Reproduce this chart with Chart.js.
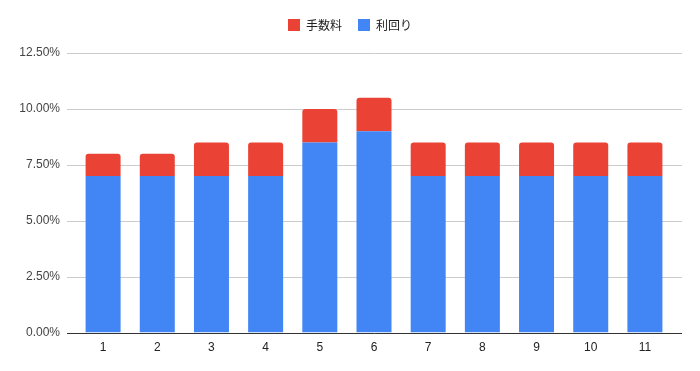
<!DOCTYPE html>
<html>
<head>
<meta charset="utf-8">
<script src="https://cdn.jsdelivr.net/npm/chart.js@4"></script>
<style>
  html, body { margin: 0; padding: 0; background: #fff; }
  #wrap { width: 700px; height: 371px; }
</style>
</head>
<body>
<div id="wrap"><canvas id="barChart"></canvas></div>
<script>
const categories = ['1','2','3','4','5','6','7','8','9','10','11'];
const yieldValues = [7, 7, 7, 7, 8.5, 9, 7, 7, 7, 7, 7];       // 利回り
const feeValues   = [1, 1, 1.5, 1.5, 1.5, 1.5, 1.5, 1.5, 1.5, 1.5, 1.5]; // 手数料
const yTicks = [0, 2.5, 5, 7.5, 10, 12.5];

const tickFont = { family: "'Liberation Sans', Arial, sans-serif", size: 12 };

// google-style grid: lines run a bit past the bars on each side
const gridPlugin = {
  id: 'sheetGrid',
  beforeLayout(chart) {
    // extra gap under the legend
    const lg = chart.legend;
    if (lg && !lg._patched) {
      const fit = lg.fit;
      lg.fit = function () { fit.call(this); this.height += 12; };
      lg._patched = true;
    }
  },
  beforeDatasetsDraw(chart) {
    const { ctx, chartArea, scales } = chart;
    const left = chartArea.left - 9, right = chartArea.right + 10;
    ctx.save();
    ctx.lineWidth = 1;
    yTicks.forEach(v => {
      const y = Math.round(scales.y.getPixelForValue(v)) + 0.5;
      ctx.strokeStyle = '#cccccc';
      ctx.beginPath(); ctx.moveTo(left, y); ctx.lineTo(right, y); ctx.stroke();
    });
    ctx.restore();
  },
  afterDatasetsDraw(chart) {
    const { ctx, chartArea, scales } = chart;
    const y = Math.round(scales.y.getPixelForValue(0)) + 0.5;
    ctx.save();
    ctx.strokeStyle = '#333333';
    ctx.lineWidth = 1;
    ctx.beginPath(); ctx.moveTo(chartArea.left - 9, y); ctx.lineTo(chartArea.right + 10, y); ctx.stroke();
    ctx.restore();
  }
};

new Chart(document.getElementById('barChart'), {
  type: 'bar',
  data: {
    labels: categories,
    datasets: [{
      label: '利回り',
      data: yieldValues,
      backgroundColor: '#4285f4',
      borderRadius: 0,
      borderSkipped: false
    }, {
      label: '手数料',
      data: feeValues,
      backgroundColor: '#ea4335',
      borderRadius: { topLeft: 3, topRight: 3, bottomLeft: 0, bottomRight: 0 },
      borderSkipped: false
    }]
  },
  options: {
    responsive: true,
    maintainAspectRatio: false,
    animation: false,
    layout: { padding: { left: 0, right: 0, top: 3, bottom: 8 } },
    datasets: { bar: { categoryPercentage: 1, barPercentage: 0.646 } },
    plugins: {
      legend: {
        reverse: true,
        labels: {
          boxWidth: 12,
          boxHeight: 12,
          padding: 16,
          color: '#222',
          font: { family: "'Noto Sans CJK JP', sans-serif", size: 12 }
        }
      },
      tooltip: { enabled: false }
    },
    scales: {
      x: {
        stacked: true,
        grid: { display: false, drawTicks: false },
        border: { display: false },
        ticks: { color: '#222', font: tickFont, padding: 8 }
      },
      y: {
        stacked: true,
        min: 0,
        max: 12.5,
        afterFit(scale) { scale.width = 76; },
        afterBuildTicks(scale) { scale.ticks = yTicks.map(v => ({ value: v })); },
        grid: { display: false, drawTicks: false },
        border: { display: false },
        ticks: {
          color: '#444',
          font: tickFont,
          padding: 16,
          callback: v => v.toFixed(2) + '%'
        }
      },
      // empty right-hand spacer so the plot ends where the reference does
      yRight: {
        position: 'right',
        grid: { display: false, drawTicks: false },
        border: { display: false },
        ticks: { display: false },
        afterFit(scale) { scale.width = 28; }
      }
    }
  },
  plugins: [gridPlugin]
});
</script>
</body>
</html>
